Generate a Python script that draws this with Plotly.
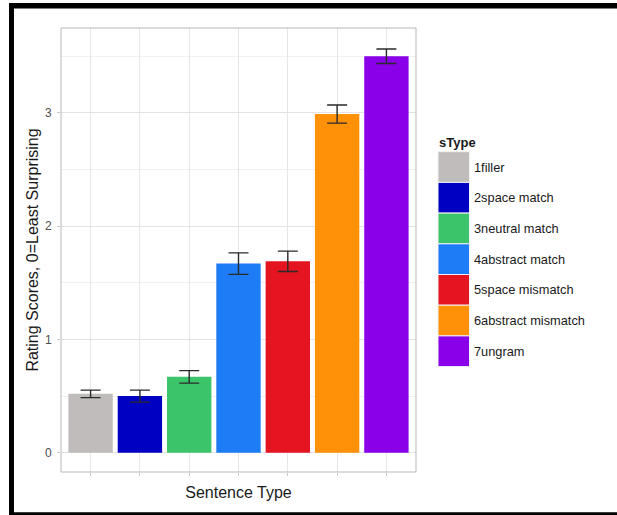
import plotly.graph_objects as go

categories = ["1filler", "2space match", "3neutral match", "4abstract match",
              "5space mismatch", "6abstract mismatch", "7ungram"]
means = [0.52, 0.50, 0.67, 1.67, 1.69, 2.99, 3.50]
errors = [0.033, 0.053, 0.055, 0.095, 0.09, 0.08, 0.064]
colors = ["#C0BCBB", "#0000C2", "#3CC46B", "#1E7CF7", "#E41421", "#FF9109", "#8A00E8"]
y_ticks = [0, 1, 2, 3]

W, H = 617, 515
L, R, T, B = 61, 416, 28, 472

def px(x):
    return (x - L) / (R - L)

def py(y):
    return (B - y) / (B - T)

fig = go.Figure()
fig.add_trace(go.Bar(
    x=categories, y=means, width=0.9,
    marker=dict(color=colors, line=dict(width=0)),
    error_y=dict(type="data", array=errors, visible=True, color="#2a2a2a",
                 thickness=1.4, width=10),
    showlegend=False,
))

shapes = []
annotations = []
# manual legend built from categories/colors
key_h = 30.7
key_top = 151.7
for i, (c, col) in enumerate(zip(categories, colors)):
    y0 = key_top + i * key_h
    shapes.append(dict(type="rect", xref="paper", yref="paper",
                       x0=px(438), x1=px(469.5), y0=py(y0 + key_h), y1=py(y0),
                       fillcolor=col, line=dict(color="#F2F2F2", width=1), layer="above"))
    annotations.append(dict(xref="paper", yref="paper", x=px(472), y=py(y0 + key_h / 2),
                            text=c, showarrow=False, xanchor="left", yanchor="middle",
                            font=dict(size=12.8, color="#1a1a1a")))
annotations.append(dict(xref="paper", yref="paper", x=px(437), y=py(142.5),
                        text="<b>sType</b>", showarrow=False, xanchor="left", yanchor="middle",
                        font=dict(size=13, color="#1a1a1a")))

# black frame of the screenshot
frame = "#000000"
shapes += [
    dict(type="rect", xref="paper", yref="paper", x0=px(9), x1=px(620), y0=py(8.5), y1=py(3),
         fillcolor=frame, line=dict(width=0), layer="above"),
    dict(type="rect", xref="paper", yref="paper", x0=px(9), x1=px(14), y0=py(518), y1=py(3),
         fillcolor=frame, line=dict(width=0), layer="above"),
    dict(type="rect", xref="paper", yref="paper", x0=px(9), x1=px(620), y0=py(518), y1=py(512.3),
         fillcolor=frame, line=dict(width=0), layer="above"),
    # panel border
    dict(type="rect", xref="paper", yref="paper", x0=0, x1=1, y0=0, y1=1,
         line=dict(color="#B8B8B8", width=1), layer="above"),
]

fig.update_layout(
    width=W, height=H,
    margin=dict(l=L, r=W - R, t=T, b=H - B, pad=0),
    paper_bgcolor="white", plot_bgcolor="white",
    font=dict(family="Liberation Sans, Arial, sans-serif", color="#1a1a1a"),
    bargap=0.1,
    shapes=shapes, annotations=annotations,
    showlegend=False,
)
fig.update_xaxes(
    range=[-0.6, 6.6], showticklabels=False, ticks="outside", ticklen=3,
    tickcolor="#C8C8C8", showgrid=True, gridcolor="#E6E6E6", gridwidth=1,
    showline=False, zeroline=False,
    title=dict(text="Sentence Type", font=dict(size=16, color="#1a1a1a"), standoff=11),
)
fig.update_yaxes(
    range=[-0.17, 3.75], tickvals=y_ticks, ticktext=[str(v) for v in y_ticks],
    ticks="outside", ticklen=3, tickcolor="#C8C8C8", ticklabelstandoff=3,
    tickfont=dict(size=12, color="#4D4D4D"),
    showgrid=True, gridcolor="#E3E3E3", gridwidth=1,
    minor=dict(dtick=0.5, tick0=0, showgrid=True, gridcolor="#F0F0F0", gridwidth=0.6),
    zeroline=False, showline=False,
    title=dict(text="Rating Scores, 0=Least Surprising", font=dict(size=16, color="#1a1a1a"),
               standoff=2),
)

fig.write_html("out.html", config={"displayModeBar": False},
               post_script="document.body.style.margin='0px';")
